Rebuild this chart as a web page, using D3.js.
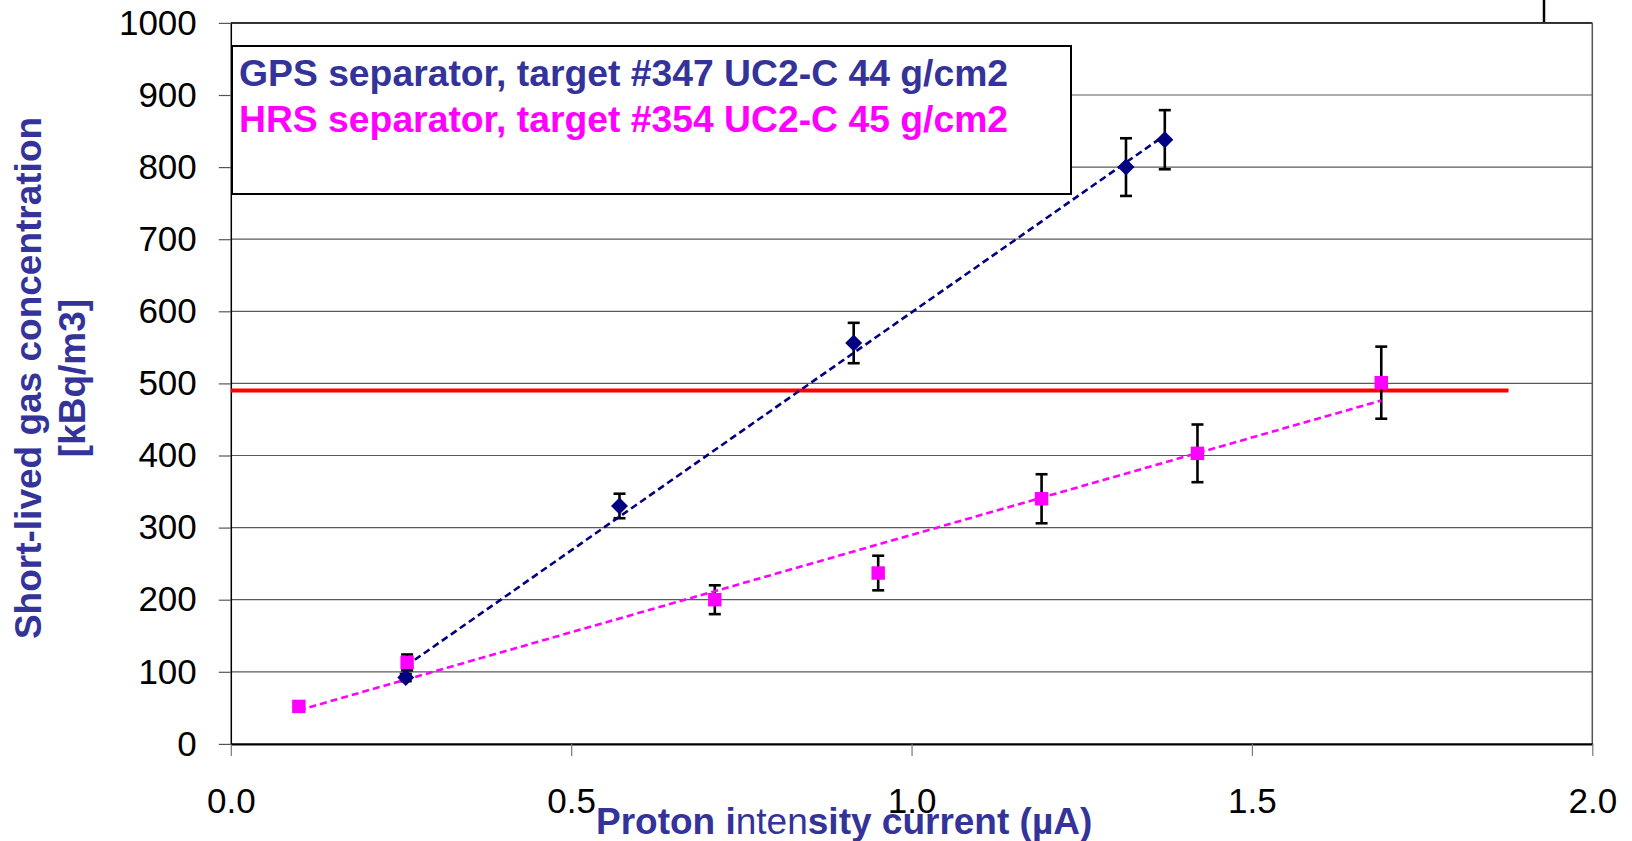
<!DOCTYPE html>
<html>
<head>
<meta charset="utf-8">
<script src="https://cdn.jsdelivr.net/npm/d3@7"></script>
<style>
  body { margin: 0; background: #fff; }
  svg { display: block; font-family: "Liberation Sans", Arial, sans-serif; }
  .tick text { font-size: 35px; fill: #000; }
</style>
</head>
<body>
<div id="chart"></div>
<script>
// data
var gpsX = [0.257, 0.571, 0.915, 1.315, 1.372];
var gpsY = [92, 330, 556, 800, 838];
var gpsErr = [5, 17, 28, 40, 41];

var hrsX = [0.100, 0.259, 0.711, 0.951, 1.191, 1.420, 1.690];
var hrsY = [52, 113, 200, 237, 340, 403, 501];
var hrsErr = [5, 11, 20, 24, 34, 40, 50];

var limitValue = 490;
var limitRange = [0, 1.877];

var xTicks = [0, 0.5, 1.0, 1.5, 2.0];
var yTicks = [0, 100, 200, 300, 400, 500, 600, 700, 800, 900, 1000];

var legendLabels = ["GPS separator, target #347 UC2-C 44 g/cm2", "HRS separator, target #354 UC2-C 45 g/cm2"];

var svgWidth = 1632;
var svgHeight = 841;

var margin = { top: 22.9, right: 39.7, bottom: 97.1, left: 230.8 };
var width = svgWidth - margin.left - margin.right;
var height = svgHeight - margin.top - margin.bottom;

var navy = "#000080", magenta = "#ff00ff", labelBlue = "#333399";

var svg = d3.select("#chart").append("svg")
  .attr("width", svgWidth)
  .attr("height", svgHeight);

var chart = svg.append("g")
  .attr("transform", `translate(${margin.left}, ${margin.top})`);

var x = d3.scaleLinear().domain([0, 2]).range([0, width]);
var y = d3.scaleLinear().domain([0, 1000]).range([height, 0]);

// gridlines
chart.append("g").selectAll("line").data(yTicks.slice(1)).enter().append("line")
  .attr("x1", 0).attr("x2", width)
  .attr("y1", d => y(d)).attr("y2", d => y(d))
  .attr("stroke", "#5a5a5a").attr("stroke-width", 1.2);

// plot frame: top black, right grey
chart.append("line").attr("x1", 0).attr("x2", width).attr("y1", 0).attr("y2", 0)
  .attr("stroke", "#111").attr("stroke-width", 1.5);
chart.append("line").attr("x1", width).attr("x2", width).attr("y1", 0).attr("y2", height)
  .attr("stroke", "#555").attr("stroke-width", 1.5);

// axes
var bottomAxis = d3.axisBottom(x).tickValues(xTicks).tickFormat(d3.format(".1f"))
  .tickSizeInner(12).tickSizeOuter(0).tickPadding(32);
var leftAxis = d3.axisLeft(y).tickValues(yTicks).tickFormat(d3.format("d"))
  .tickSizeInner(12).tickSizeOuter(0).tickPadding(22);

var xAxisG = chart.append("g").attr("transform", `translate(0, ${height})`).call(bottomAxis);
xAxisG.select(".domain").attr("stroke", "#000").attr("stroke-width", 2.2);
xAxisG.selectAll(".tick line").attr("stroke", "#777").attr("stroke-width", 1.2);

var yAxisG = chart.append("g").call(leftAxis);
yAxisG.select(".domain").attr("stroke", "#000").attr("stroke-width", 1.5);
yAxisG.selectAll(".tick line").attr("stroke", "#555").attr("stroke-width", 1.2);
svg.selectAll(".tick text").attr("font-family", null);

// limit line
chart.append("line")
  .attr("x1", x(limitRange[0])).attr("x2", x(limitRange[1]))
  .attr("y1", y(limitValue)).attr("y2", y(limitValue))
  .attr("stroke", "#ff0000").attr("stroke-width", 4);

// linear trendline by least squares
function fit(xs, ys) {
  var mx = d3.mean(xs), my = d3.mean(ys);
  var sxy = d3.sum(xs, (v, i) => (v - mx) * (ys[i] - my));
  var sxx = d3.sum(xs, v => (v - mx) * (v - mx));
  var b = sxy / sxx;
  return { b: b, a: my - b * mx };
}

var series = [
  { xs: gpsX, ys: gpsY, err: gpsErr, color: navy, shape: d3.symbolDiamond2, size: 185 },
  { xs: hrsX, ys: hrsY, err: hrsErr, color: magenta, shape: d3.symbolSquare2, size: 230 }
];

// error bars
series.forEach(function(s) {
  var pts = s.xs.map((v, i) => ({ x: v, y: s.ys[i], e: s.err[i] }));
  var g = chart.append("g").attr("stroke", "#000").attr("stroke-width", 2.6);
  g.selectAll(".bar").data(pts).enter().append("line")
    .attr("x1", d => x(d.x)).attr("x2", d => x(d.x))
    .attr("y1", d => y(d.y - d.e)).attr("y2", d => y(d.y + d.e));
  g.selectAll(".capTop").data(pts).enter().append("line")
    .attr("x1", d => x(d.x) - 6).attr("x2", d => x(d.x) + 6)
    .attr("y1", d => y(d.y + d.e)).attr("y2", d => y(d.y + d.e));
  g.selectAll(".capBot").data(pts).enter().append("line")
    .attr("x1", d => x(d.x) - 6).attr("x2", d => x(d.x) + 6)
    .attr("y1", d => y(d.y - d.e)).attr("y2", d => y(d.y - d.e));
});

// trendlines
series.forEach(function(s) {
  var f = fit(s.xs, s.ys);
  var x0 = d3.min(s.xs), x1 = d3.max(s.xs);
  chart.append("line")
    .attr("x1", x(x0)).attr("y1", y(f.a + f.b * x0))
    .attr("x2", x(x1)).attr("y2", y(f.a + f.b * x1))
    .attr("stroke", s.color).attr("stroke-width", 2.6)
    .attr("stroke-dasharray", "7,4");
});

// markers
series.forEach(function(s) {
  chart.append("g").selectAll("path").data(s.xs).enter().append("path")
    .attr("transform", (d, i) => `translate(${x(d)}, ${y(s.ys[i])})`)
    .attr("d", d3.symbol().type(s.shape).size(s.size))
    .attr("fill", s.color);
});

// legend box
var legend = svg.append("g");
legend.append("rect")
  .attr("x", 232).attr("y", 46).attr("width", 839).attr("height", 148)
  .attr("fill", "#fff").attr("stroke", "#000").attr("stroke-width", 2);
legend.selectAll("text").data(legendLabels).enter().append("text")
  .attr("x", 239).attr("y", (d, i) => 86 + i * 45.7)
  .attr("font-size", "37.3px").attr("font-weight", "bold")
  .attr("fill", (d, i) => i === 0 ? labelBlue : magenta)
  .text(d => d);

// small mark above plot at top right
svg.append("line").attr("x1", 1544).attr("x2", 1544).attr("y1", 0).attr("y2", 22)
  .attr("stroke", "#000").attr("stroke-width", 2.5);

// y axis label
var yLab = svg.append("text")
  .attr("transform", "translate(41, 378) rotate(-90)")
  .attr("text-anchor", "middle")
  .attr("font-size", "37px").attr("font-weight", "bold")
  .attr("fill", labelBlue);
yLab.append("tspan").attr("x", 0).attr("y", 0).text("Short-lived gas concentration");
yLab.append("tspan").attr("x", 0).attr("y", 44).text("[kBq/m3]");

// x axis label, mixed weights as in the original
var xLab = svg.append("text")
  .attr("x", 596).attr("y", 834)
  .attr("font-size", "37px").attr("fill", labelBlue);
xLab.append("tspan").attr("font-weight", "bold").text("Proton i");
xLab.append("tspan").attr("font-weight", "normal").text("nten");
xLab.append("tspan").attr("font-weight", "bold").text("sity current (µA)");
</script>
</body>
</html>
